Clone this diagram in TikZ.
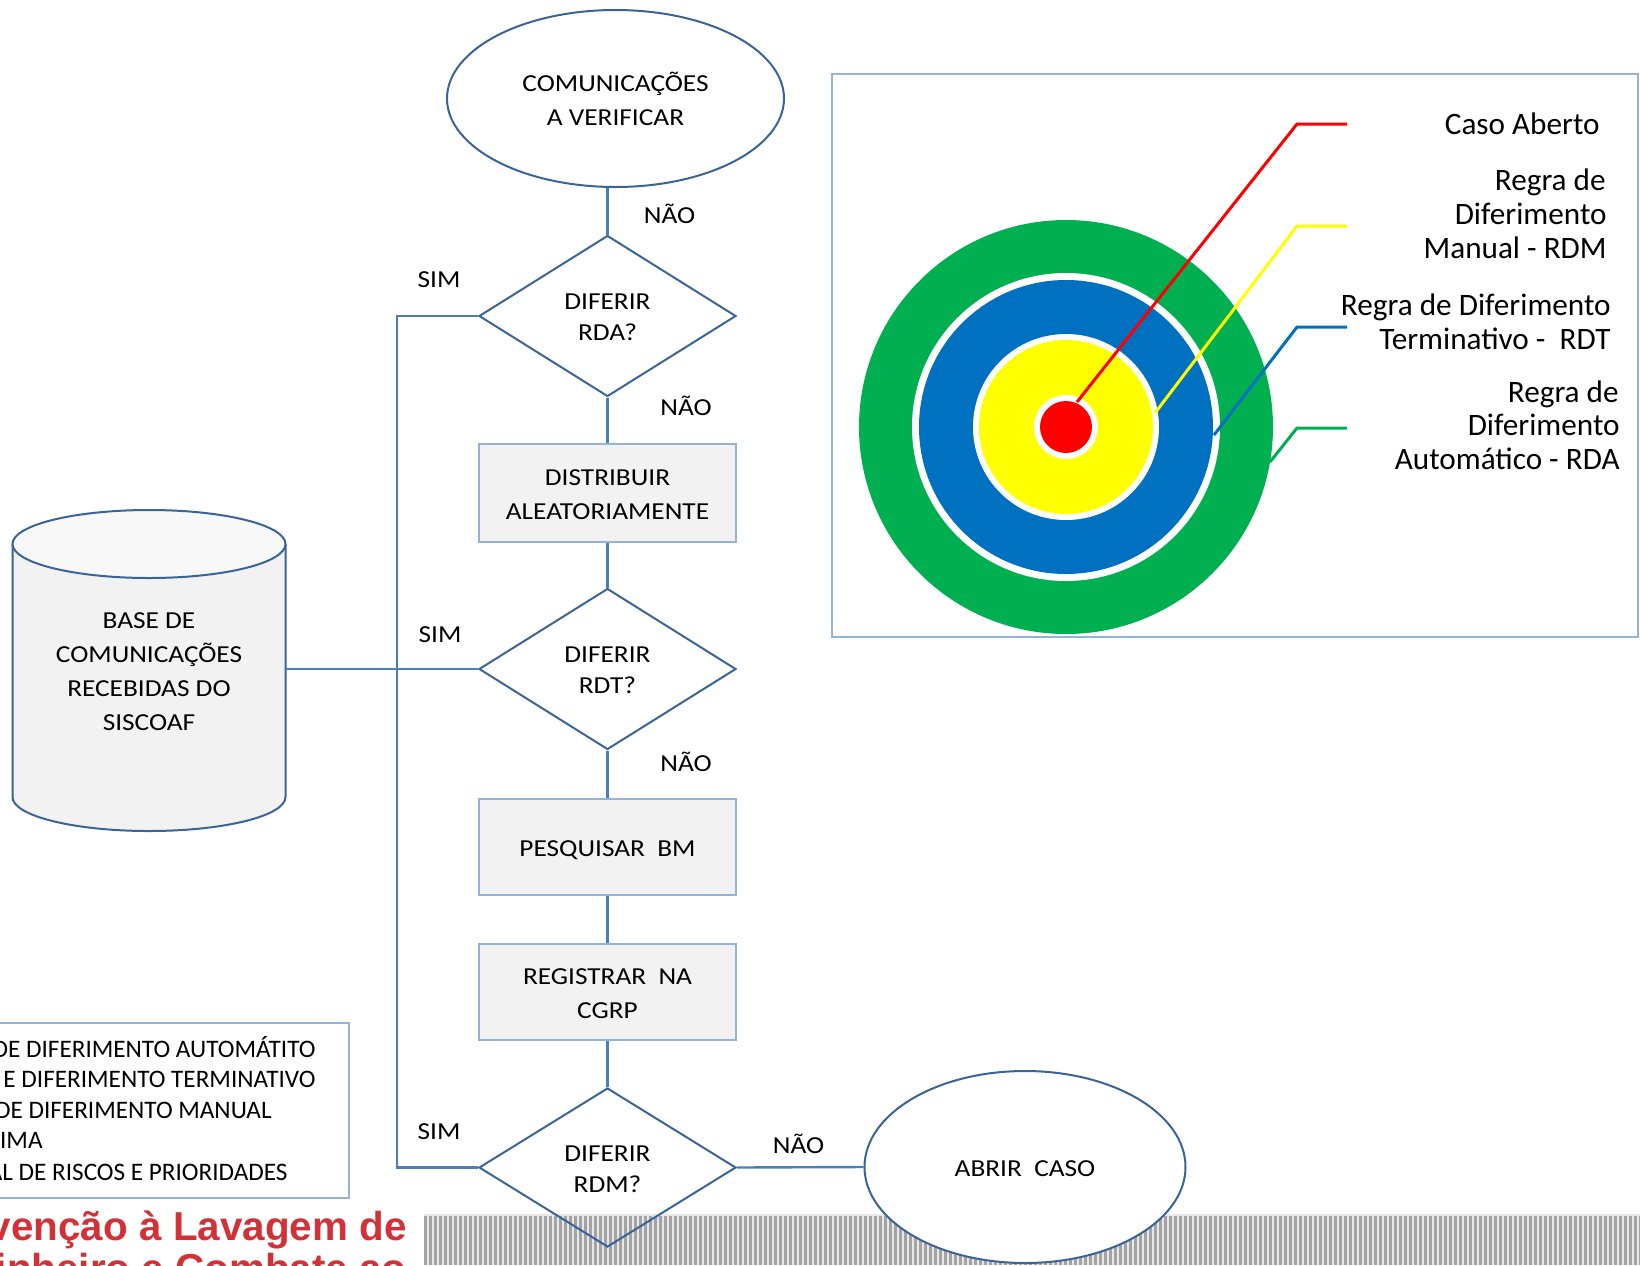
\documentclass[tikz,border=0pt]{standalone}
\usepackage{fontspec}
\setmainfont{Carlito}
\newfontfamily\titlefont{Liberation Sans}
\usepackage{graphicx}
\usetikzlibrary{shapes.geometric}
\definecolor{shapeline}{HTML}{3A6496}
\definecolor{conline}{HTML}{4A7EBB}
\definecolor{lightbd}{HTML}{95B3D7}
\definecolor{boxfill}{HTML}{F2F2F2}
\definecolor{tgreen}{HTML}{00B050}
\definecolor{tblue}{HTML}{0070C0}
\definecolor{tyellow}{HTML}{FFFF00}
\definecolor{tred}{HTML}{FF0000}
\definecolor{titlered}{RGB}{210,50,55}
\newcommand{\fctext}[2][17]{\raisebox{-1.5pt}[\height][\depth]{\scalebox{1.12}[1]{\fontsize{12.2}{#1}\selectfont\begin{tabular}{@{}c@{}}#2\end{tabular}}}}
\newcommand{\lbltext}[1]{\scalebox{1.12}[1]{\fontsize{12.2}{17}\selectfont #1}}
\tikzset{
  fcshape/.style={draw=shapeline, line width=1pt, inner sep=0pt},
  procbox/.style={rectangle, draw=lightbd, line width=1pt, fill=boxfill, minimum width=128.5pt, minimum height=48pt, inner sep=0pt},
  decision/.style={diamond, fcshape, minimum width=128.5pt, minimum height=80.5pt},
  terminal/.style={ellipse, fcshape, fill=white},
  conn/.style={draw=conline, line width=1.2pt},
  lbl/.style={anchor=base, inner sep=0pt},
  ptext/.style={anchor=base east, inner sep=0pt, font=\fontsize{15.6}{17}\selectfont},
  legtext/.style={anchor=base east, inner sep=0pt, font=\fontsize{12.6}{15}\selectfont},
  leader/.style={line width=1.5pt},
  titletext/.style={anchor=base east, inner sep=0pt, text=titlered, font=\titlefont\bfseries\fontsize{20.2}{22}\selectfont},
}
\begin{document}
\begin{tikzpicture}[x=0.5pt, y=-0.5pt]
\useasboundingbox (0,0) rectangle (1640,1265);
\clip (0,0) rectangle (1640,1265);

% striped band at the bottom
\fill[gray!18] (424,1214) rectangle (1640,1265);
\foreach \i in {0,...,243} \fill[gray!72] ({424+5*\i},1216) rectangle ++(2.6,49);

% red title (cut by the picture's edges)
\node[titletext] (title1) at (407,1240) {Prevenção à Lavagem de};
\node[titletext] (title2) at (407,1282) {Dinheiro e Combate ao};

% legend box (cut on the left)
\draw[lightbd, line width=1pt] (-20,1023) rectangle (349,1198);
\node[legtext] (lg1) at (316,1057) {DE DIFERIMENTO AUTOMÁTITO};
\node[legtext] (lg2) at (316,1087) {E DIFERIMENTO TERMINATIVO};
\node[legtext] (lg3) at (272,1118) {DE DIFERIMENTO MANUAL};
\node[legtext] (lg4) at (43,1148) {IMA};
\node[legtext] (lg5) at (288,1180) {AL DE RISCOS E PRIORIDADES};

% right panel
\draw[lightbd, line width=1pt] (831.5,74) rectangle (1638,637);
\fill[tgreen] (1066,427) circle[radius=207];
\fill[white] (1066,427) circle[radius=154];
\fill[tblue] (1066,427) circle[radius=147];
\fill[white] (1066,427) circle[radius=93];
\fill[tyellow] (1066,427) circle[radius=87];
\fill[white] (1066,427) circle[radius=32];
\fill[tred] (1066,427) circle[radius=26];
\draw[leader, tred] (1077,402) -- (1297,124) -- (1347,124);
\draw[leader, tyellow] (1155,413) -- (1297,226) -- (1347,226);
\draw[leader, tblue] (1214,435) -- (1297,327) -- (1347,327);
\draw[leader, tgreen] (1270,462) -- (1297,428) -- (1347,428);
\node[ptext] (pa) at (1600,134) {Caso Aberto};
\node[ptext] (pb1) at (1606,190) {Regra de};
\node[ptext] (pb2) at (1607,224) {Diferimento};
\node[ptext] (pb3) at (1607,258) {Manual - RDM};
\node[ptext] (pc1) at (1611,315) {Regra de Diferimento};
\node[ptext] (pc2) at (1611,349) {Terminativo -\ \ RDT};
\node[ptext] (pd1) at (1619,402) {Regra de};
\node[ptext] (pd2) at (1620,435) {Diferimento};
\node[ptext] (pd3) at (1620,469) {Automático - RDA};

% cylinder
\filldraw[fill=boxfill, draw=shapeline, line width=1pt] (12.5,544) -- (12.5,797) arc[start angle=180, end angle=0, x radius=136.5, y radius=34] -- (285.5,544);
\filldraw[fill=boxfill!50!white, draw=shapeline, line width=1pt] (149,544) ellipse[x radius=136.5, y radius=34];
\node[rectangle, inner sep=0pt, minimum width=136.5pt, minimum height=160.5pt] (db) at (149,669.5) {\fctext{BASE DE\\COMUNICAÇÕES\\RECEBIDAS DO\\SISCOAF}};

% flowchart
\node[terminal, minimum width=168.5pt, minimum height=88.5pt] (ver) at (615.5,98.5) {\fctext{COMUNICAÇÕES\\A VERIFICAR}};
\node[decision] (d1) at (607.5,316) {\fctext[15.5]{DIFERIR\\RDA?}};
\node[procbox, minimum height=48.75pt] (dist) at (607.5,493) {\fctext{DISTRIBUIR\\ALEATORIAMENTE}};
\node[decision] (d2) at (607.5,669) {\fctext[15.5]{DIFERIR\\RDT?}};
\node[procbox] (pesq) at (607.5,847) {\fctext{PESQUISAR\ \ BM}};
\node[procbox] (reg) at (607.5,992) {\fctext{REGISTRAR\ \ NA\\CGRP}};
\node[decision, minimum height=79.5pt] (d3) at (607.5,1167.5) {\fctext[15.5]{DIFERIR\\RDM?}};
\node[terminal, minimum width=160.5pt, minimum height=96pt] (abrir) at (1025,1167) {\fctext{ABRIR\ \ CASO}};

\draw[conn] (d1.north) -- (d1.north |- ver.south);
\draw[conn] (d1.south) -- (dist.north);
\draw[conn] (dist.south) -- (d2.north);
\draw[conn] (d2.south) -- (pesq.north);
\draw[conn] (pesq.south) -- (reg.north);
\draw[conn] (reg.south) -- (d3.north);
\draw[conn] (d3.east) -- (abrir.west);
\draw[conn] (d1.west) -- ++(-81,0) coordinate (bus) -- (bus |- d3.west) -- (d3.west);
\draw[conn] (db.east |- d2.west) -- (d2.west);

% labels
\node[lbl] (n1) at (669.5,223) {\lbltext{NÃO}};
\node[lbl] (s1) at (439,287) {\lbltext{SIM}};
\node[lbl] (n2) at (686,415) {\lbltext{NÃO}};
\node[lbl] (s2) at (440,642) {\lbltext{SIM}};
\node[lbl] (n3) at (686,771) {\lbltext{NÃO}};
\node[lbl] (s3) at (439,1139) {\lbltext{SIM}};
\node[lbl] (n4) at (798.5,1153) {\lbltext{NÃO}};
\end{tikzpicture}
\end{document}
